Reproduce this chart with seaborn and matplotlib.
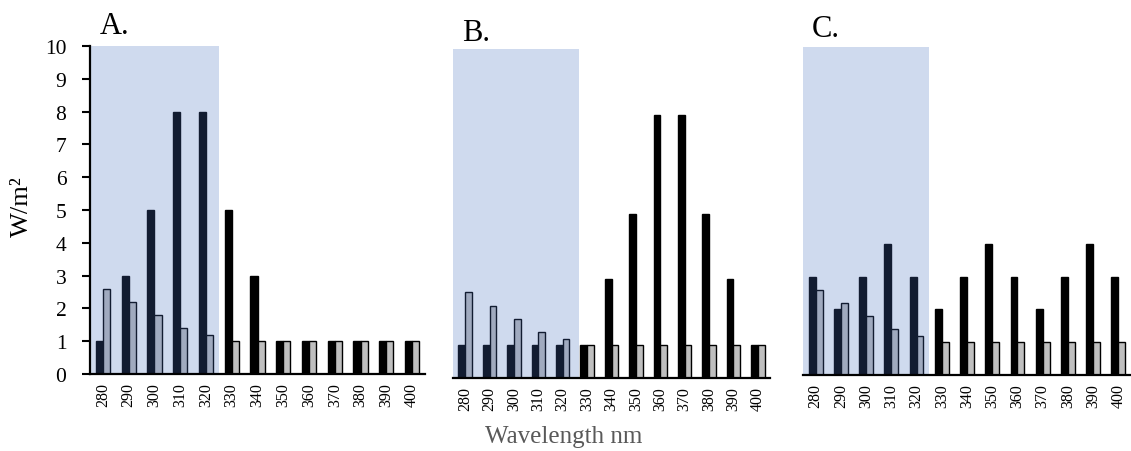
import matplotlib
matplotlib.use("Agg")
import matplotlib.pyplot as plt
import seaborn as sns
import pandas as pd

# ---- data -------------------------------------------------------------
wavelengths = [280, 290, 300, 310, 320, 330, 340, 350, 360, 370, 380, 390, 400]
a_black = [1, 3, 5, 8, 8, 5, 3, 1, 1, 1, 1, 1, 1]
a_gray = [2.6, 2.2, 1.8, 1.4, 1.2, 1, 1, 1, 1, 1, 1, 1, 1]
b_black = [1, 1, 1, 1, 1, 1, 3, 5, 8, 8, 5, 3, 1]
b_gray = [2.6, 2.2, 1.8, 1.4, 1.2, 1, 1, 1, 1, 1, 1, 1, 1]
c_black = [3, 2, 3, 4, 3, 2, 3, 4, 3, 2, 3, 4, 3]
c_gray = [2.6, 2.2, 1.8, 1.4, 1.2, 1, 1, 1, 1, 1, 1, 1, 1]
panel_titles = ["A.", "B.", "C."]
series_names = ["Series 1", "Series 2"]
y_ticks = [0, 1, 2, 3, 4, 5, 6, 7, 8, 9, 10]

sns.set_theme(style="white", rc={
    "axes.edgecolor": "black",
    "xtick.color": "black",
    "ytick.color": "black",
    "text.color": "black",
    "ytick.left": True,
})
plt.rcParams["font.family"] = ["Liberation Serif", "DejaVu Serif"]

W, H = 1131, 452
fig = plt.figure(figsize=(W / 100, H / 100), dpi=100)

def frame(left, bottom_px, right, top_px):
    return [left / W, (H - bottom_px) / H, (right - left) / W, (bottom_px - top_px) / H]

positions = [frame(90, 375, 425, 47), frame(453, 379, 770, 50), frame(803, 376, 1131, 48)]
shade_ends = [4.5, 4.65, 4.5]
data = [(a_black, a_gray), (b_black, b_gray), (c_black, c_gray)]
labels = [str(w) for w in wavelengths]

for i, (pos, (blk, gry)) in enumerate(zip(positions, data)):
    ax = fig.add_axes(pos)
    df = pd.DataFrame({
        "wavelength": labels * 2,
        "series": [series_names[0]] * len(labels) + [series_names[1]] * len(labels),
        "value": list(blk) + list(gry),
    })
    sns.barplot(data=df, x="wavelength", y="value", hue="series",
                order=labels, hue_order=series_names,
                palette={series_names[0]: "black", series_names[1]: "#bfbfbf"},
                width=0.55, edgecolor="black", linewidth=1.0,
                legend=False, ax=ax)
    ax.set_xlim(-0.5, len(labels) - 0.5)
    ax.set_ylim(0, 10)
    ax.axvspan(-0.5, shade_ends[i], ymin=0, ymax=1, color="#4870C0",
               alpha=0.26, lw=0, zorder=2)
    ax.set_xlabel("")
    ax.set_ylabel("")
    for s in ["top", "right"]:
        ax.spines[s].set_visible(False)
    ax.spines["bottom"].set_linewidth(1.6)
    ax.spines["bottom"].set_zorder(3)
    ax.tick_params(axis="x", length=0, pad=6, labelsize=11.5, labelrotation=90)
    if i == 0:
        ax.spines["left"].set_linewidth(1.6)
        ax.set_yticks(y_ticks)
        ax.tick_params(axis="y", length=6, width=1.5, direction="out",
                       pad=11, labelsize=15.5)
    else:
        ax.spines["left"].set_visible(False)
        ax.set_yticks([])
    ax.patch.set_alpha(0)

fig.text(100 / W, 1 - 34 / H, panel_titles[0], fontsize=22, va="baseline", ha="left")
fig.text(462 / W, 1 - 41 / H, panel_titles[1], fontsize=22, va="baseline", ha="left")
fig.text(812 / W, 1 - 37 / H, panel_titles[2], fontsize=22, va="baseline", ha="left")

fig.text(22 / W, 1 - 207 / H, "W/m²", rotation=90, fontsize=19, ha="center", va="center")
fig.text(564 / W, 1 - 437 / H, "Wavelength nm", fontsize=18, color="#595959",
         ha="center", va="center")

fig.savefig("out.png", dpi=100)
